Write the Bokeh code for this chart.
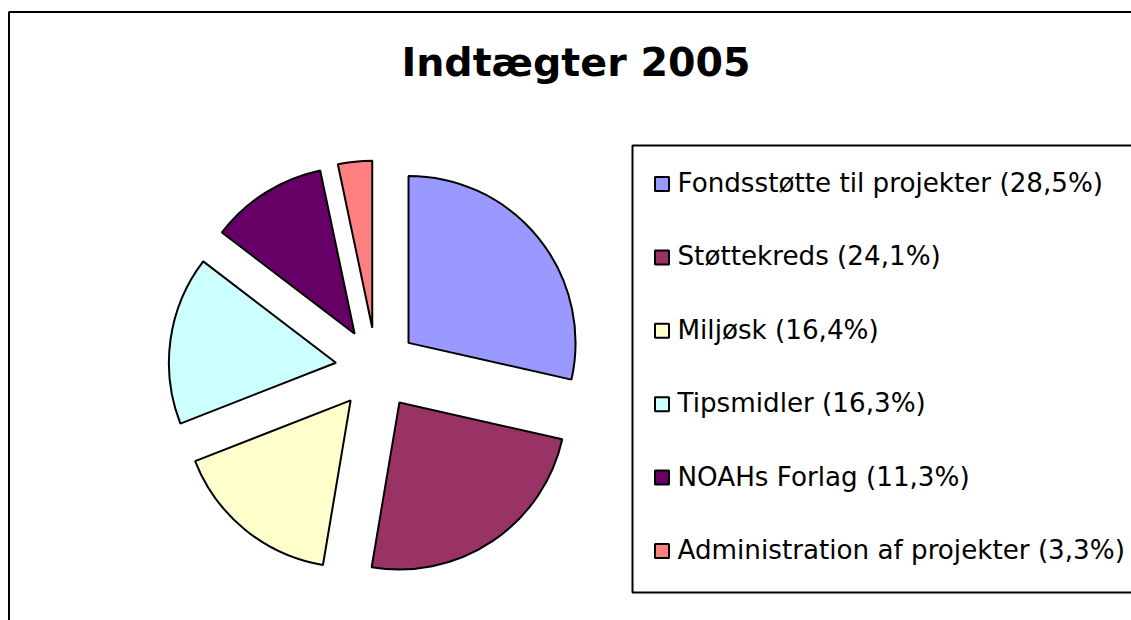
import math
from bokeh.plotting import figure
from bokeh.models import Range1d, ColumnDataSource
from bokeh.core.properties import value
from bokeh.embed import file_html
from bokeh.resources import INLINE

# ---- data ----
title_text = "Indtægter 2005"
categories = ["Fondsstøtte til projekter", "Støttekreds", "Miljøsk",
              "Tipsmidler", "NOAHs Forlag", "Administration af projekter"]
shares = [28.5, 24.1, 16.4, 16.3, 11.3, 3.3]
colors = ["#9999FF", "#993366", "#FFFFCC", "#CCFFFF", "#660066", "#FF8080"]

# ---- layout (screen pixels) ----
W, H = 1131, 620
X0, Y0 = 0, 0
def Y(sy):
    return (Y0 + H) - sy

PIE_CX, PIE_CY = 376, 368
PIE_R = 167
EXPLODE = 41

p = figure(width=W, height=H, x_range=Range1d(X0, X0 + W), y_range=Range1d(0, H),
           output_backend="svg", toolbar_location=None, min_border=0,
           outline_line_color=None, background_fill_color="white",
           border_fill_color="white")
p.axis.visible = False
p.grid.visible = False

# outer chart frame (right/bottom edges fall outside the window)
p.quad(left=[8.5], right=[1500], top=[Y(11.5)], bottom=[-200],
       fill_color=None, line_color="black", line_width=2)

# pie wedges
total = sum(shares)
starts, ends, xs, ys = [], [], [], []
acc = 0.0
for v in shares:
    a1 = acc / total * 2 * math.pi
    acc += v
    a2 = acc / total * 2 * math.pi
    mid = (a1 + a2) / 2
    starts.append(math.pi / 2 - a1)
    ends.append(math.pi / 2 - a2)
    xs.append(PIE_CX + EXPLODE * math.sin(mid))
    ys.append(Y(PIE_CY) + EXPLODE * math.cos(mid))

src = ColumnDataSource(dict(x=xs, y=ys, s=starts, e=ends, c=colors))
p.wedge(x="x", y="y", radius=PIE_R, start_angle="s", end_angle="e",
        direction="clock", fill_color="c", line_color="black", line_width=2,
        source=src)

# title
p.text(x=[575.5], y=[Y(61)], text=[title_text], text_font=value("DejaVu Sans"),
       text_font_style="bold", text_font_size="39.6px", text_align="center",
       text_baseline="alphabetic", text_color="black")

# legend box
p.quad(left=[632], right=[1500], top=[Y(145)], bottom=[Y(592)],
       fill_color=None, line_color="black", line_width=2)

labels = [f"{c} ({v:.1f}%)".replace(".", ",") for c, v in zip(categories, shares)]
step = 73.4
item_y = [183.5 + i * step for i in range(len(labels))]
p.rect(x=[661.5] * len(labels), y=[Y(v) for v in item_y], width=14, height=14,
       fill_color=colors, line_color="black", line_width=2)
p.text(x=[677] * len(labels), y=[Y(v - 1) for v in item_y], text=labels,
       text_font=value("DejaVu Sans"), text_font_size="26.2px",
       text_align="left", text_baseline="alphabetic", text_color="black")

open("out.html", "w").write(file_html(p, INLINE))
